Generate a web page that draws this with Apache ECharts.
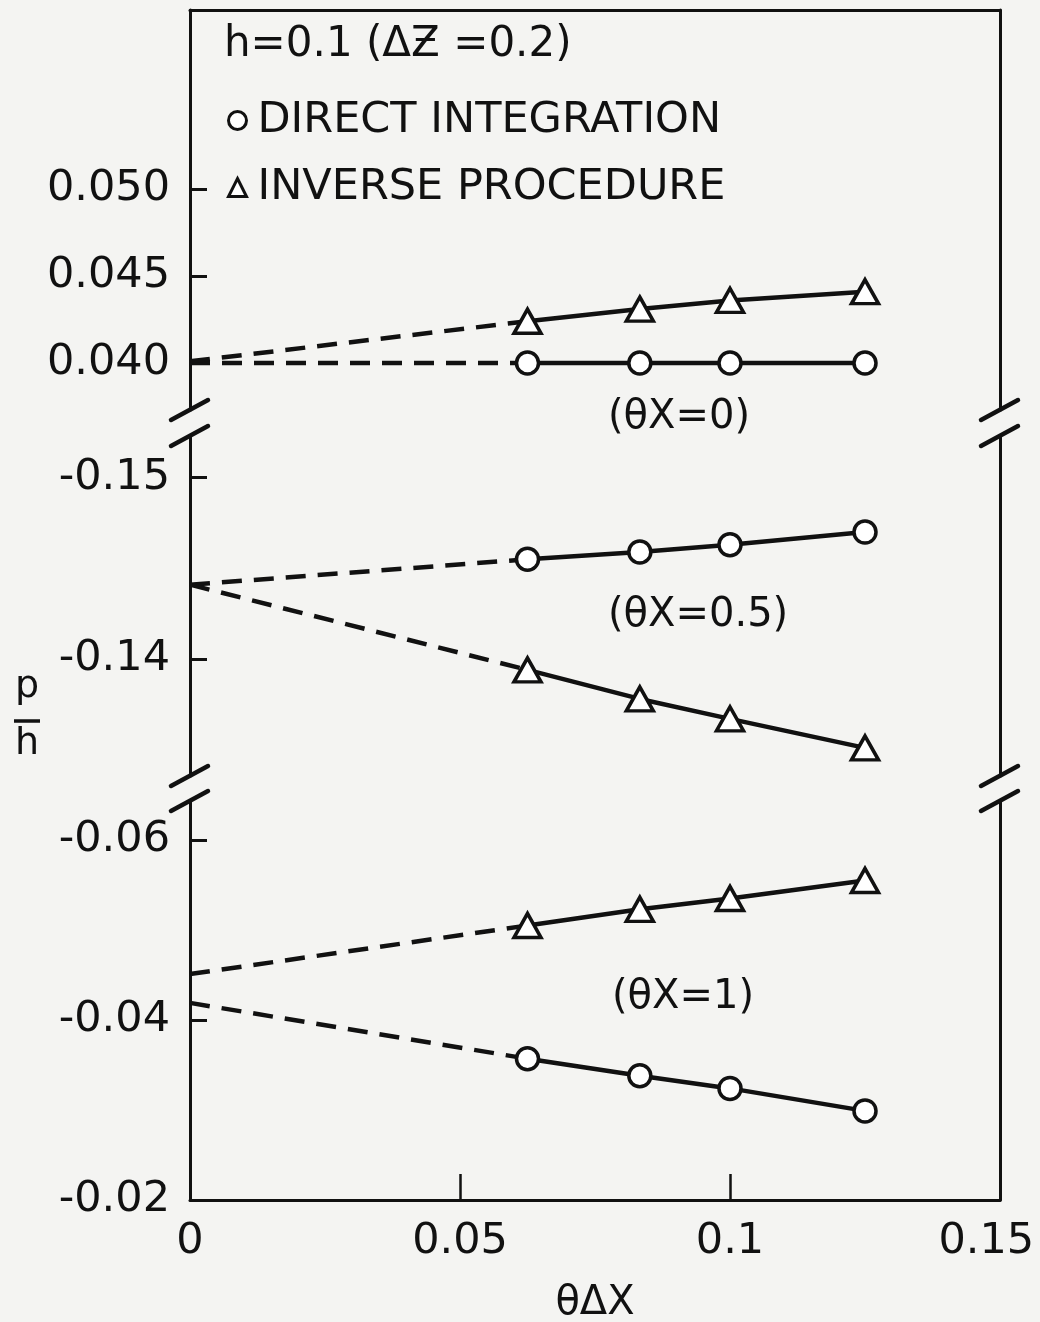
<!DOCTYPE html>
<html>
<head>
<meta charset="utf-8">
<script src="https://cdn.jsdelivr.net/npm/echarts@6/dist/echarts.min.js"></script>
<style>
  html, body { margin: 0; padding: 0; background: #f4f4f2; }
  #chart { width: 1040px; height: 1322px; }
</style>
</head>
<body>
<div id="chart"></div>
<script>
// Step sizes θΔX at which both procedures were evaluated
const steps = [0.0625, 0.0833, 0.1, 0.125];

// θX = 0 panel (p/h)
const direct0 = [0.0400, 0.0400, 0.0400, 0.0400];
const inverse0 = [0.0424, 0.0431, 0.0436, 0.0441];
const direct0Limit = 0.0400;
const inverse0Limit = 0.0401;

// θX = 0.5 panel
const direct05 = [-0.1455, -0.1459, -0.1463, -0.1470];
const inverse05 = [-0.1394, -0.1378, -0.1367, -0.1351];
const direct05Limit = -0.1441;
const inverse05Limit = -0.1441;

// θX = 1 panel
const direct1 = [-0.0357, -0.0338, -0.0324, -0.0299];
const inverse1 = [-0.0505, -0.0523, -0.0535, -0.0555];
const direct1Limit = -0.0419;
const inverse1Limit = -0.0451;

// Axis tick labels
const xTicks = [0, 0.05, 0.1, 0.15];
const yTicksTop = [0.040, 0.045, 0.050];
const yTicksMid = [-0.15, -0.14];
const yTicksBot = [-0.06, -0.04, -0.02];

const FONT = 'DejaVu Sans';
const INK = '#111';
const BG = '#f4f4f2';

// Panel layout (pixels)
const L = 190, R = 1000;
const panels = [
  { top: 10, bottom: 410, min: 0.0373, max: 0.06029, inverse: false, ticks: yTicksTop, digits: 3 },
  { top: 436, bottom: 776, min: -0.1523, max: -0.13355, inverse: true, ticks: yTicksMid, digits: 2 },
  { top: 801, bottom: 1200, min: -0.064333, max: -0.02, inverse: true, ticks: yTicksBot, digits: 2 }
];

const grids = panels.map(p => ({
  left: L, width: R - L, top: p.top, height: p.bottom - p.top,
  containLabel: false, outerBoundsMode: 'none'
}));

const xAxes = panels.map((p, i) => {
  const base = {
    type: 'value', gridIndex: i, min: 0, max: 0.15, interval: 0.05,
    splitLine: { show: false },
    axisLine: { show: false, lineStyle: { color: INK, width: 3 } },
    axisTick: { show: false },
    axisLabel: { show: false }
  };
  if (i === 0) {
    base.position = 'top';
    base.axisLine.show = true;
  }
  if (i === 2) {
    base.position = 'bottom';
    base.axisLine.show = true;
    base.axisTick = { show: true, inside: true, length: 26, lineStyle: { color: INK, width: 2.5 }, customValues: [0.05, 0.1] };
    base.axisLabel = {
      show: true, margin: 20, fontSize: 43, fontFamily: FONT, color: INK,
      customValues: xTicks, hideOverlap: false,
      // the last label sits at the page edge; trailing spaces keep it inside
      formatter: v => (v === xTicks[xTicks.length - 1] ? String(v) + '  ' : String(v))
    };
    base.name = 'θΔX';
    base.nameLocation = 'middle';
    base.nameGap = 84;
    base.nameTextStyle = { fontSize: 40, fontFamily: FONT, color: INK };
  }
  return base;
});

const yAxes = [];
panels.forEach((p, i) => {
  yAxes.push({
    type: 'value', gridIndex: i, position: 'left', min: p.min, max: p.max, inverse: p.inverse,
    splitLine: { show: false },
    axisLine: { show: true, lineStyle: { color: INK, width: 3 } },
    axisTick: { show: true, inside: true, length: 17, lineStyle: { color: INK, width: 3 }, customValues: p.ticks },
    axisLabel: {
      show: true, margin: 20, fontSize: 43, fontFamily: FONT, color: INK,
      customValues: p.ticks,
      formatter: v => v.toFixed(p.digits)
    }
  });
  yAxes.push({
    type: 'value', gridIndex: i, position: 'right', min: p.min, max: p.max, inverse: p.inverse,
    splitLine: { show: false },
    axisLine: { show: true, lineStyle: { color: INK, width: 3 } },
    axisTick: { show: false },
    axisLabel: { show: false }
  });
});

const pairs = vals => steps.map((s, k) => [s, vals[k]]);

const markerStyle = { color: '#fff', borderColor: INK, borderWidth: 3.5 };

function measured(name, vals, panel, symbol, size) {
  return {
    type: 'line', name, xAxisIndex: panel, yAxisIndex: panel * 2,
    data: pairs(vals),
    symbol, symbolSize: size, showAllSymbol: true,
    lineStyle: { color: INK, width: 4.5 },
    itemStyle: markerStyle,
    z: 3, animation: false
  };
}
function extrapolated(name, limit, vals, panel) {
  return {
    type: 'line', name, xAxisIndex: panel, yAxisIndex: panel * 2,
    data: [[0, limit], [steps[0], vals[0]]],
    symbol: 'none',
    lineStyle: { color: INK, width: 4.5, type: [20, 12] },
    z: 2, animation: false
  };
}

const DI = 'DIRECT INTEGRATION';
const IP = 'INVERSE PROCEDURE';
const series = [
  extrapolated('direct extrapolation θX=0', direct0Limit, direct0, 0),
  extrapolated('inverse extrapolation θX=0', inverse0Limit, inverse0, 0),
  measured(DI, direct0, 0, 'circle', 22),
  measured(IP, inverse0, 0, 'triangle', [27, 24]),
  extrapolated('direct extrapolation θX=0.5', direct05Limit, direct05, 1),
  extrapolated('inverse extrapolation θX=0.5', inverse05Limit, inverse05, 1),
  measured(DI, direct05, 1, 'circle', 22),
  measured(IP, inverse05, 1, 'triangle', [27, 24]),
  extrapolated('direct extrapolation θX=1', direct1Limit, direct1, 2),
  extrapolated('inverse extrapolation θX=1', inverse1Limit, inverse1, 2),
  measured(DI, direct1, 2, 'circle', 22),
  measured(IP, inverse1, 2, 'triangle', [27, 24])
];

// Axis-break slashes at both sides of each gap between panels
const breakMarks = [];
for (let g = 0; g < panels.length - 1; g++) {
  const yUpper = panels[g].bottom;
  const yLower = panels[g + 1].top;
  [L, R].forEach(x => {
    [yUpper, yLower].forEach(y => {
      breakMarks.push({
        type: 'line', z: 10,
        shape: { x1: x - 19, y1: y + 10, x2: x + 18, y2: y - 10 },
        style: { stroke: INK, lineWidth: 4.5, lineCap: 'round' }
      });
    });
    // gap in the axis line between the slashes
    breakMarks.push({
      type: 'rect', z: 9,
      shape: { x: x - 3, y: yUpper + 3, width: 6, height: yLower - yUpper - 6 },
      style: { fill: BG }
    });
  });
}

const textStyle = (size) => ({ fontSize: size, fontFamily: FONT, fill: INK });

const graphics = breakMarks.concat([
  { type: 'text', left: 224, top: 24, style: Object.assign({ text: 'h=0.1 (ΔƵ =0.2)' }, textStyle(42)) },
  { type: 'text', left: 608, top: 398, style: Object.assign({ text: '(θX=0)' }, textStyle(40)) },
  { type: 'text', left: 608, top: 596, style: Object.assign({ text: '(θX=0.5)' }, textStyle(40)) },
  { type: 'text', left: 612, top: 978, style: Object.assign({ text: '(θX=1)' }, textStyle(40)) },
  // y-axis title p/h written as a fraction
  { type: 'text', left: 15, top: 668, style: Object.assign({ text: 'p' }, textStyle(38)) },
  { type: 'line', shape: { x1: 14, y1: 721, x2: 40, y2: 721 }, style: { stroke: INK, lineWidth: 3.5 } },
  { type: 'text', left: 15, top: 725, style: Object.assign({ text: 'h' }, textStyle(38)) }
]);

const chart = echarts.init(document.getElementById('chart'), null, { renderer: 'canvas' });
chart.setOption({
  backgroundColor: BG,
  animation: false,
  grid: grids,
  xAxis: xAxes,
  yAxis: yAxes,
  legend: {
    orient: 'vertical', left: 222, top: 94, itemGap: 24,
    itemWidth: 18, itemHeight: 18, selectedMode: false,
    textStyle: { fontSize: 43, fontFamily: FONT, color: INK, padding: [0, 0, 0, 6] },
    data: [
      { name: DI, icon: 'circle', itemStyle: { color: '#fff', borderColor: INK, borderWidth: 3 } },
      { name: IP, icon: 'triangle', itemStyle: { color: '#fff', borderColor: INK, borderWidth: 3 } }
    ]
  },
  series,
  graphic: graphics
});
</script>
</body>
</html>
